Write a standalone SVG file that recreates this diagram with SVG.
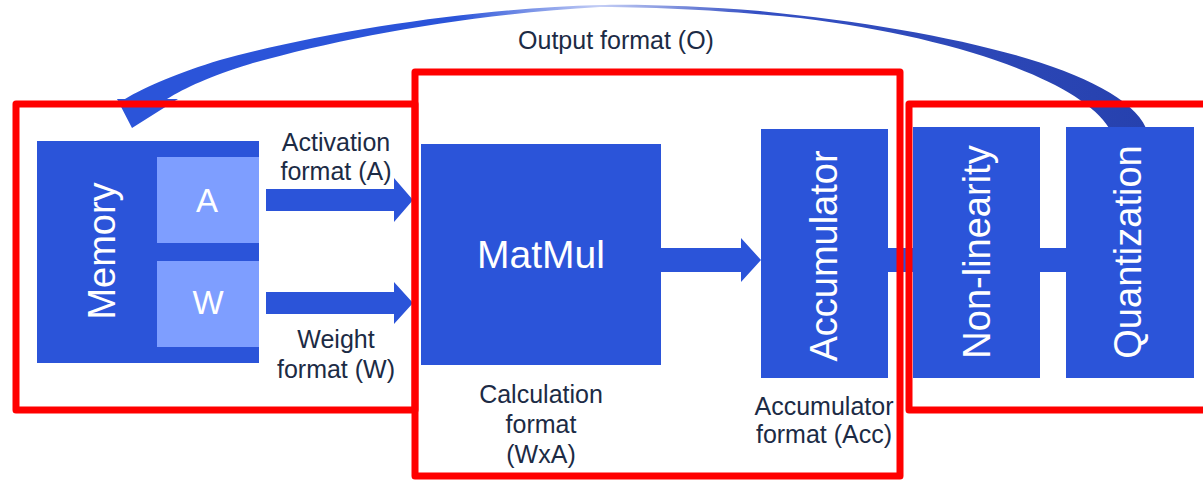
<svg xmlns="http://www.w3.org/2000/svg" width="1203" height="480" viewBox="0 0 1203 480">
<defs>
<style>
.blk{fill:#2B54D9}
.lt{fill:#7E9EFF}
.frame{fill:none;stroke:#FF0000;stroke-width:7;stroke-linejoin:round}
.wt{fill:#FFFFFF;font-family:"Liberation Sans",Arial,sans-serif}
.lbl{fill:#1C2B45;font-family:"Liberation Sans",Arial,sans-serif;font-size:25px;text-anchor:middle}
.conn{fill:#2B54D9}
</style>
<linearGradient id="curveGrad" x1="116" y1="0" x2="1146" y2="0" gradientUnits="userSpaceOnUse">
<stop offset="0" stop-color="#2B54D9"/>
<stop offset="0.33" stop-color="#2B54D9"/>
<stop offset="0.47" stop-color="#C4CEF5"/>
<stop offset="0.62" stop-color="#3550C4"/>
<stop offset="1" stop-color="#2641AE"/>
</linearGradient>
</defs>
<rect width="1203" height="480" fill="#FFFFFF"/>

<g id="connectors">
<path class="conn" d="M266,189 H394 V178 L413,200 L394,222 V211 H266 Z"/>
<path class="conn" d="M266,292 H394 V282 L413,303 L394,324 V314 H266 Z"/>
<path class="conn" d="M661,248 H741 V238 L761,260 L741,282 V272 H661 Z"/>
<rect class="conn" x="886" y="248" width="29" height="24"/>
<rect class="conn" x="1038" y="248" width="30" height="24"/>
<path fill="url(#curveGrad)" d="M1146,128 C1120,70 950,30 760,11 C700,6 640,4 600,5 C480,8 330,30 220,60 C180,72 145,87 125,99 L117,99 L132,128 L178,99 L167,99 C185,88 210,76 250,64 C340,38 470,14 600,7 C680,7 760,14 800,18 C950,36 1080,80 1109,128 Z"/>
<text class="lbl" x="616" y="49">Output format (O)</text>
</g>

<g id="memory">
<rect class="blk" x="37" y="141" width="222" height="222"/>
<text class="wt" font-size="38" text-anchor="middle" transform="translate(115,251) rotate(-90)">Memory</text>
</g>
<g id="mem-a">
<rect class="lt" x="157" y="157" width="102" height="86"/>
<text class="wt" font-size="33" text-anchor="middle" x="207" y="212">A</text>
</g>
<g id="mem-w">
<rect class="lt" x="157" y="261" width="102" height="86"/>
<text class="wt" font-size="33" text-anchor="middle" x="208" y="314">W</text>
</g>

<g id="activation-label">
<text class="lbl" x="336" y="151">Activation</text>
<text class="lbl" x="336" y="180">format (A)</text>
</g>
<g id="weight-label">
<text class="lbl" x="336" y="348">Weight</text>
<text class="lbl" x="336" y="378">format (W)</text>
</g>

<g id="matmul">
<rect class="blk" x="421" y="144" width="240" height="221"/>
<text class="wt" font-size="39" text-anchor="middle" x="541" y="268">MatMul</text>
</g>
<g id="calc-label">
<text class="lbl" x="541" y="403">Calculation</text>
<text class="lbl" x="541" y="433">format</text>
<text class="lbl" x="541" y="463">(WxA)</text>
</g>

<g id="accumulator">
<rect class="blk" x="761" y="129" width="127" height="249"/>
<text class="wt" font-size="38" text-anchor="middle" transform="translate(837,256) rotate(-90)">Accumulator</text>
</g>
<g id="acc-label">
<text class="lbl" x="824" y="415">Accumulator</text>
<text class="lbl" x="824" y="443">format (Acc)</text>
</g>

<g id="nonlinearity">
<rect class="blk" x="913" y="127" width="127" height="251"/>
<text class="wt" font-size="38" text-anchor="middle" transform="translate(990,252) rotate(-90)">Non-linearity</text>
</g>
<g id="quantization">
<rect class="blk" x="1066" y="127" width="128" height="251"/>
<text class="wt" font-size="38" text-anchor="middle" transform="translate(1141,252) rotate(-90)">Quantization</text>
</g>

<g id="frames">
<rect class="frame" x="16" y="104" width="399" height="306"/>
<rect class="frame" x="415" y="72" width="485" height="404"/>
<rect class="frame" x="909" y="104" width="310" height="306"/>
</g>
</svg>
